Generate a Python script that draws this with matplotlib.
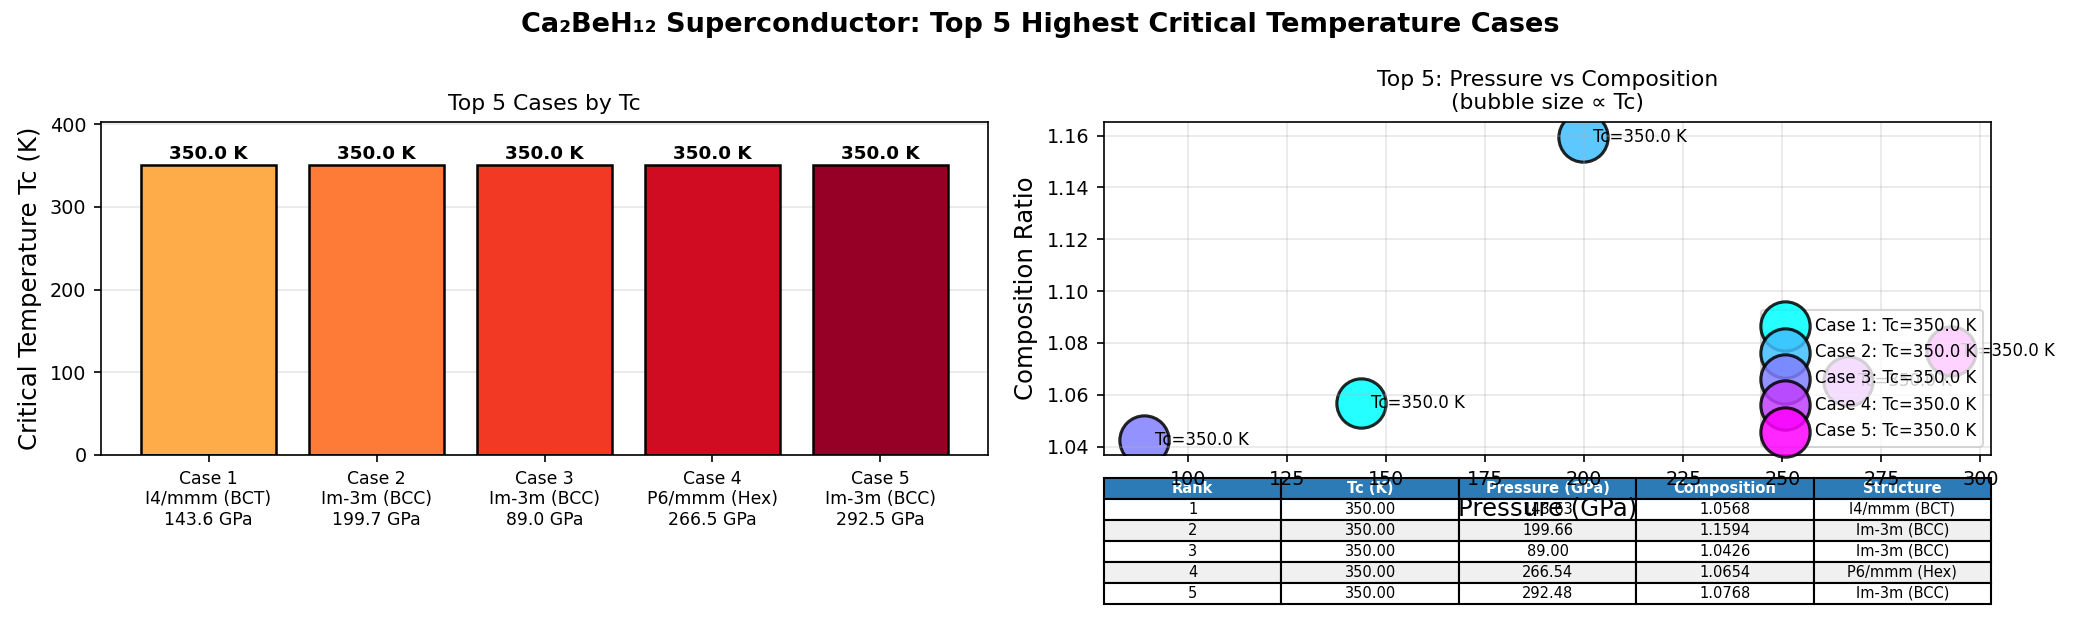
import matplotlib
matplotlib.use("Agg")
import matplotlib.pyplot as plt
import numpy as np

# ---- data ----
cases = ["Case 1", "Case 2", "Case 3", "Case 4", "Case 5"]
tc_values = [350.0, 350.0, 350.0, 350.0, 350.0]
pressures = [143.63, 199.66, 89.00, 266.54, 292.48]
compositions = [1.0568, 1.1594, 1.0426, 1.0654, 1.0768]
structures = ["I4/mmm (BCT)", "Im-3m (BCC)", "Im-3m (BCC)", "P6/mmm (Hex)", "Im-3m (BCC)"]
table_cols = ["Rank", "Tc (K)", "Pressure (GPa)", "Composition", "Structure"]

W, H, DPI = 2077, 619, 150
fig = plt.figure(figsize=(W / DPI, H / DPI), dpi=DPI)

def fig_rect(x0, y0, x1, y1):
    return [x0 / W, 1 - y1 / H, (x1 - x0) / W, (y1 - y0) / H]

ax1 = fig.add_axes(fig_rect(101, 122, 988, 455))
ax2 = fig.add_axes(fig_rect(1104, 122, 1991, 455))

# ---- left: bars ----
bar_colors = plt.cm.YlOrRd(np.linspace(0.4, 0.95, len(tc_values)))
x = np.arange(len(tc_values))
bars = ax1.bar(x, tc_values, color=bar_colors, edgecolor="black", linewidth=1.2, width=0.8)
for b, v in zip(bars, tc_values):
    ax1.text(b.get_x() + b.get_width() / 2, v + 3, f"{v:.1f} K",
             ha="center", va="bottom", fontsize=8.8, fontweight="bold")
ax1.set_xticks(x)
ax1.set_xticklabels([f"{c}\n{s}\n{p:.1f} GPa" for c, s, p in zip(cases, structures, pressures)],
                    fontsize=8.3)
ax1.tick_params(axis="y", labelsize=9.2)
ax1.set_ylim(0, max(tc_values) * 1.15)
ax1.set_ylabel("Critical Temperature Tc (K)", fontsize=11.7)
ax1.set_title("Top 5 Cases by Tc", fontsize=10.5)
ax1.grid(axis="y", alpha=0.3)
ax1.set_axisbelow(True)

# ---- right: bubble scatter ----
sc_colors = plt.cm.cool(np.linspace(0, 1, len(tc_values)))
for i in range(len(tc_values)):
    ax2.scatter(pressures[i], compositions[i], s=tc_values[i] * 1.6, color=sc_colors[i],
                alpha=0.85, edgecolors="black", linewidth=1.5,
                label=f"{cases[i]}: Tc={tc_values[i]:.1f} K")
    ax2.annotate(f"Tc={tc_values[i]:.1f} K", (pressures[i], compositions[i]),
                 xytext=(5, 0), textcoords="offset points", fontsize=8, va="center")
ax2.set_xlabel("Pressure (GPa)", fontsize=11.7)
ax2.set_ylabel("Composition Ratio", fontsize=11.7)
ax2.set_title("Top 5: Pressure vs Composition\n(bubble size \u221d Tc)", fontsize=10.5)
ax2.tick_params(labelsize=9.2)
ax2.grid(True, alpha=0.3)
ax2.legend(loc="lower right", fontsize=8)

# ---- table ----
cell_text = [[str(i + 1), f"{tc_values[i]:.2f}", f"{pressures[i]:.2f}",
              f"{compositions[i]:.4f}", structures[i]] for i in range(len(tc_values))]
tbl = ax2.table(cellText=cell_text, colLabels=table_cols, cellLoc="center",
                bbox=[0, -0.447, 1, 0.378])
tbl.auto_set_font_size(False)
tbl.set_fontsize(7)
for (r, c), cell in tbl.get_celld().items():
    if r == 0:
        cell.set_facecolor("#2c7bb6")
        cell.get_text().set_color("white")
        cell.get_text().set_fontweight("bold")
    elif r % 2 == 0:
        cell.set_facecolor("#f0f0f0")
    else:
        cell.set_facecolor("white")

fig.suptitle("Ca\u2082BeH\u2081\u2082 Superconductor: Top 5 Highest Critical Temperature Cases",
             fontsize=13, fontweight="bold", x=0.501, y=0.96, va="center")

fig.savefig("out.png", dpi=DPI)
